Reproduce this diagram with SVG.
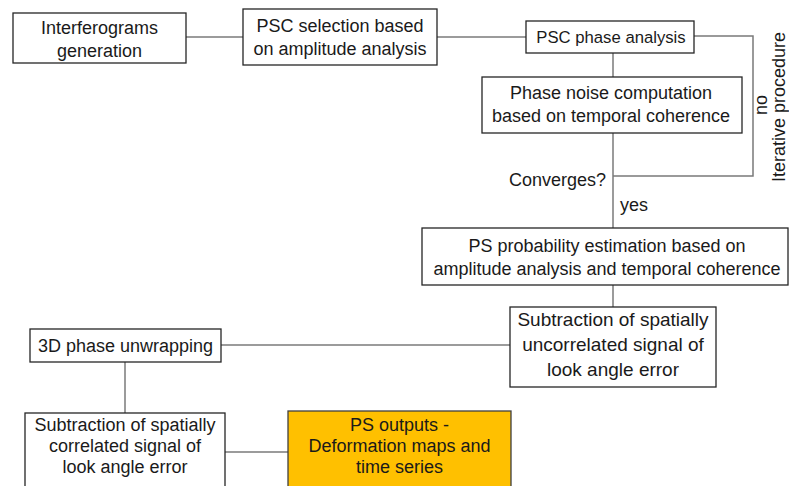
<svg xmlns="http://www.w3.org/2000/svg" width="789" height="486" viewBox="0 0 789 486">
<style>
.box{fill:#ffffff;stroke:#262626;stroke-width:1.3}
.out{fill:#ffc000;stroke:#404040;stroke-width:1.3}
.t{font-family:"Liberation Sans",Arial,sans-serif;font-size:18px;fill:#1a1a1a;text-anchor:middle}
.c{fill:none;stroke:#7a7a7a;stroke-width:1.5}
</style>
<rect width="789" height="486" fill="#ffffff"/>
<g id="connectors">
<path class="c" d="M186,37H243"/>
<path class="c" d="M437,37H526"/>
<path class="c" d="M694,36H753V176H613"/>
<path class="c" d="M613,53V77"/>
<path class="c" d="M613,133V228"/>
<path class="c" d="M613,285V307"/>
<path class="c" d="M510,345H221"/>
<path class="c" d="M125,362V413"/>
<path class="c" d="M225,452H288"/>
</g>
<g id="n1"><rect class="box" x="13" y="13" width="173" height="50"/>
<text class="t" x="99.5" y="34">Interferograms</text><text class="t" x="99.5" y="57">generation</text></g>
<g id="n2"><rect class="box" x="243" y="9" width="194" height="56"/>
<text class="t" x="340" y="32">PSC selection based</text><text class="t" x="340" y="55">on amplitude analysis</text></g>
<g id="n3"><rect class="box" x="526" y="21" width="168" height="32"/>
<text class="t" x="611" y="43" style="font-size:16.7px">PSC phase analysis</text></g>
<g id="n4"><rect class="box" x="482" y="77" width="260" height="56"/>
<text class="t" x="611" y="99">Phase noise computation</text><text class="t" x="611" y="122">based on temporal coherence</text></g>
<g id="n5"><rect class="box" x="422" y="228" width="366" height="57"/>
<text class="t" x="607" y="252">PS probability estimation based on</text><text class="t" x="607" y="275">amplitude analysis and temporal coherence</text></g>
<g id="n6"><rect class="box" x="510" y="307" width="206" height="80"/>
<text class="t" x="613" y="326" style="font-size:19px">Subtraction of spatially</text><text class="t" x="613" y="351" style="font-size:19px">uncorrelated signal of</text><text class="t" x="613" y="376" style="font-size:19px">look angle error</text></g>
<g id="n7"><rect class="box" x="30" y="329" width="191" height="33"/>
<text class="t" x="125.5" y="352">3D phase unwrapping</text></g>
<g id="n8"><rect class="box" x="25" y="413" width="200" height="80"/>
<text class="t" x="125" y="431">Subtraction of spatially</text><text class="t" x="125" y="452">correlated signal of</text><text class="t" x="125" y="473">look angle error</text></g>
<g id="n9"><rect class="out" x="288" y="411" width="223" height="82"/>
<text class="t" x="399.5" y="431">PS outputs -</text><text class="t" x="399.5" y="452">Deformation maps and</text><text class="t" x="399.5" y="473">time series</text></g>
<g id="labels">
<text class="t" x="606" y="186" style="text-anchor:end">Converges?</text>
<text class="t" x="620" y="211" style="text-anchor:start">yes</text>
<text class="t" transform="translate(767,105) rotate(-90)">no</text>
<text class="t" transform="translate(785,107) rotate(-90)" style="font-size:18px">Iterative procedure</text>
</g>
</svg>
